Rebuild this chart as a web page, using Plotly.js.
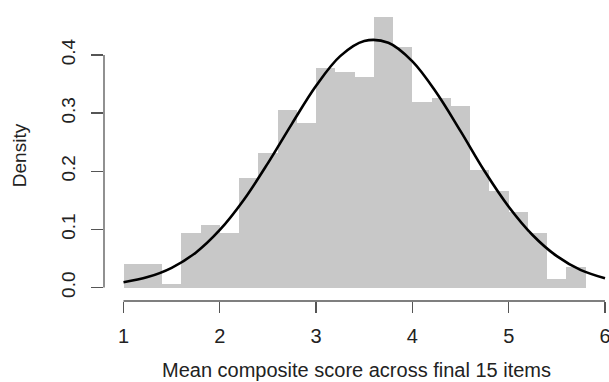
<!DOCTYPE html>
<html>
<head>
<meta charset="utf-8">
<script src="https://cdn.plot.ly/plotly-3.0.1.min.js"></script>
<style>html,body{margin:0;padding:0;background:#fff;}#chart{width:609px;height:382px;}</style>
</head>
<body>
<div id="chart"></div>
<script>
// Histogram bins (left edges, width 0.2) and densities
const binLeft = [1.0, 1.2, 1.4, 1.6, 1.8, 2.0, 2.2, 2.4, 2.6, 2.8, 3.0, 3.2,
                 3.4, 3.6, 3.8, 4.0, 4.2, 4.4, 4.6, 4.8, 5.0, 5.2, 5.4, 5.6];
const binWidth = 0.2;
const density = [0.041, 0.041, 0.006, 0.093, 0.107, 0.094, 0.188, 0.232, 0.305, 0.283, 0.378, 0.371,
                 0.362, 0.465, 0.414, 0.319, 0.326, 0.312, 0.202, 0.166, 0.130, 0.093, 0.014, 0.035];
// Overlaid normal density curve
const curveX = [1.0, 1.25, 1.5, 1.75, 2.0, 2.25, 2.5, 2.75, 3.0, 3.25, 3.5, 3.75,
                4.0, 4.25, 4.5, 4.75, 5.0, 5.25, 5.5, 5.75, 6.0];
const curveY = [0.009, 0.018, 0.034, 0.060, 0.099, 0.151, 0.214, 0.282, 0.347, 0.398, 0.424, 0.421,
                0.389, 0.335, 0.269, 0.200, 0.139, 0.090, 0.054, 0.030, 0.016];
const xTicks = [1, 2, 3, 4, 5, 6];
const yTicks = [0.0, 0.1, 0.2, 0.3, 0.4];
const yTickText = ['0.0', '0.1', '0.2', '0.3', '0.4'];
const xTitle = 'Mean composite score across final 15 items';
const yTitle = 'Density';

const font = {family: 'Liberation Sans, Arial, sans-serif', size: 18, color: '#222'};
const axisCol = '#555';

const traces = [
  {type: 'bar', x: binLeft, y: density, width: binWidth, offset: 0,
   marker: {color: '#c8c8c8', line: {width: 0}}, hoverinfo: 'x+y'},
  {type: 'scatter', mode: 'lines', x: curveX, y: curveY,
   line: {color: '#000', width: 2.6, shape: 'spline', smoothing: 1}}
];

const layout = {
  width: 609, height: 382,
  margin: {l: 104, r: 0, t: 10, b: 81},
  paper_bgcolor: '#fff', plot_bgcolor: '#fff',
  showlegend: false,
  bargap: 0,
  font: font,
  xaxis: {
    range: [0.7975, 6.0415], tickvals: xTicks, ticktext: xTicks.map(String),
    showgrid: false, zeroline: false, showline: false,
    ticks: 'outside', ticklen: 11, tickcolor: axisCol, tickwidth: 1.3,
    ticklabelstandoff: 6, ticklabeloverflow: 'allow',
    tickfont: {size: 20, color: '#222'},
    title: {text: xTitle, font: {size: 20, color: '#222'}, standoff: 16}
  },
  yaxis: {
    range: [-0.0231, 0.4773], tickvals: yTicks, ticktext: yTickText,
    showgrid: false, zeroline: false, showline: false,
    ticks: 'outside', ticklen: 12, tickcolor: axisCol, tickwidth: 1.3,
    tickangle: -90, ticklabelstandoff: 8,
    tickfont: {size: 19, color: '#222'},
    title: {text: yTitle, font: {size: 19, color: '#222'}, standoff: 26}
  },
  shapes: [
    {type: 'line', xref: 'x', yref: 'paper', x0: xTicks[0], x1: xTicks[xTicks.length - 1], y0: 0, y1: 0,
     line: {color: axisCol, width: 1.3}},
    {type: 'line', xref: 'paper', yref: 'y', x0: 0, x1: 0, y0: yTicks[0], y1: yTicks[yTicks.length - 1],
     line: {color: axisCol, width: 1.3}}
  ]
};

Plotly.newPlot('chart', traces, layout, {displayModeBar: false, staticPlot: true});
</script>
</body>
</html>
